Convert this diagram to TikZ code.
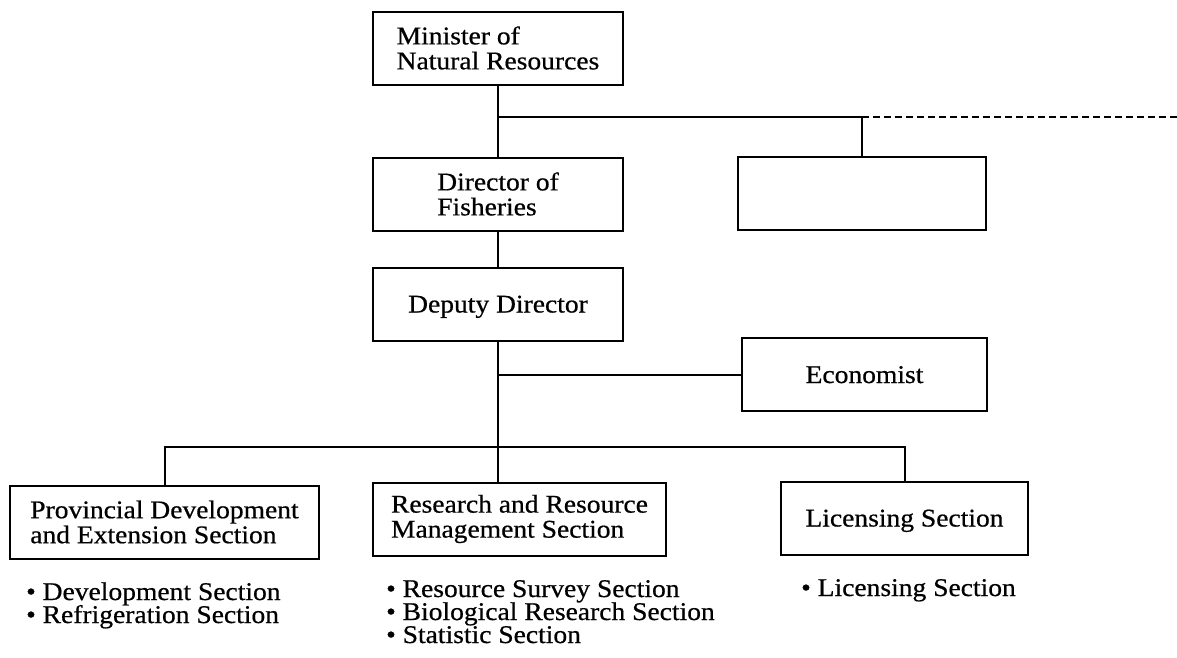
\documentclass[tikz,border=0pt]{standalone}
\usepackage{fontspec}
\setmainfont{Liberation Serif}[FakeStretch=1.08, FakeBold=0.6]
\begin{document}
\begin{tikzpicture}[x=1pt,y=-1pt,
  every node/.style={font=\fontsize{25.5}{25}\selectfont},
  orgbox/.style={draw, line width=2pt, inner sep=0pt, align=left,
    minimum width=#1, minimum height=73pt},
  orgbox/.default=250pt,
  link/.style={line width=2pt},
  item/.style={anchor=base west, inner sep=0pt, font=\fontsize{25.5}{23}\selectfont}]
\useasboundingbox (0,0) rectangle (1177,657);

% boxes of the chart
\node[orgbox] (min) at (498,48) {Minister of\\Natural Resources};
\node[orgbox] (dir) at (498,194) {Director of\\Fisheries};
\node[orgbox=248pt] (other) at (862,193.5) {};
\node[orgbox, text height=17pt, text depth=0pt] (dep) at (498,304) {Deputy Director};
\node[orgbox=245pt, text height=17pt, text depth=0pt] (econ) at (864.5,374.5) {Economist};
\node[orgbox=309pt] (prov) at (164.5,522) {Provincial Development\\and Extension Section};
\node[orgbox=293pt] (res) at (519.5,519) {Research and Resource\\Management Section};
\node[orgbox=247pt, text height=17pt, text depth=0pt] (lic) at (904.5,518) {Licensing Section};

% junction points
\coordinate (j1) at (498,117);
\coordinate (dashend) at (1177,117);
\coordinate (bus) at (498,447);

% connectors
\draw[link] (min.south) -- (dir.north);
\draw[link] (j1) -- (other.north |- j1) -- (other.north);
\draw[link, dash pattern=on 7pt off 4pt] (other.north |- j1) -- (dashend);
\draw[link] (dir.south) -- (dep.north);
\draw[link] (dep.south) -- (bus);
\draw[link] (econ.west) -- (dep.south |- econ.west);
\draw[link] (prov.north) |- (bus) -| (lic.north);
\draw[link] (bus) -- (bus |- res.north);

% section lists
\node[item] (p1) at (26,600) {• Development Section};
\node[item] (p2) at (26,623) {• Refrigeration Section};
\node[item] (r1) at (386,597) {• Resource Survey Section};
\node[item] (r2) at (386,620) {• Biological Research Section};
\node[item] (r3) at (386,643) {• Statistic Section};
\node[item] (l1) at (801,596) {• Licensing Section};
\end{tikzpicture}
\end{document}
